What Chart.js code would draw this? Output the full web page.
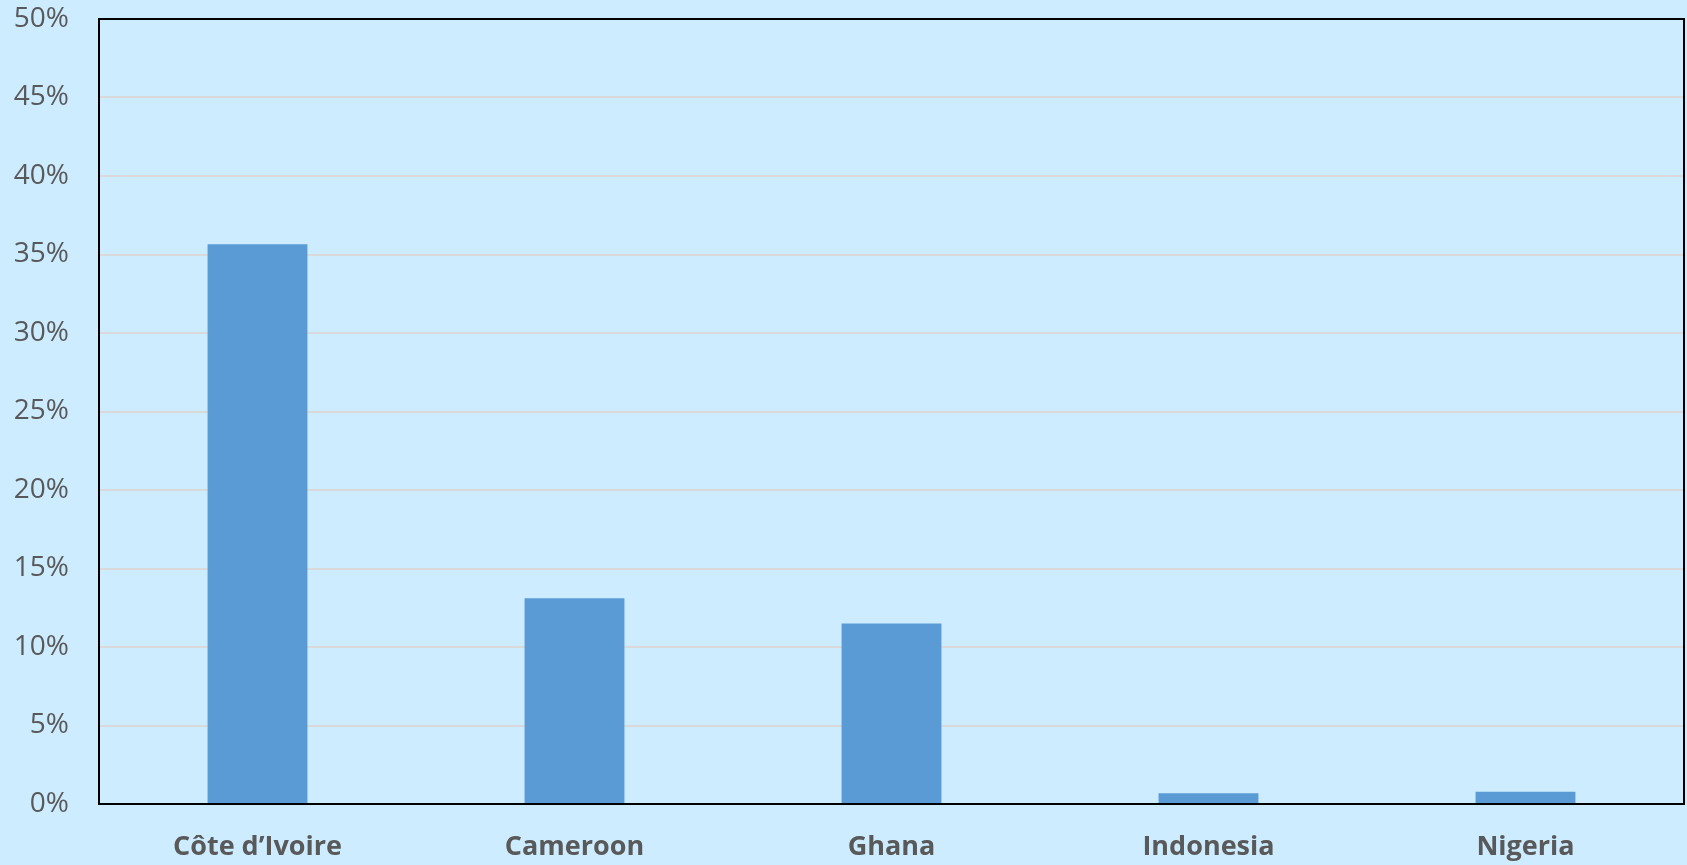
<!DOCTYPE html>
<html>
<head>
<meta charset="utf-8">
<script src="https://cdn.jsdelivr.net/npm/chart.js@4/dist/chart.umd.min.js"></script>
<style>
  html, body { margin: 0; padding: 0; background: #cdecff; }
  #wrap { width: 1687px; height: 865px; }
</style>
</head>
<body>
<div id="wrap"><canvas id="chart" width="1687" height="865"></canvas></div>
<script>
const countries = ['Côte d\u2019Ivoire', 'Cameroon', 'Ghana', 'Indonesia', 'Nigeria']
const shares = [35.65, 13.1, 11.5, 0.68, 0.78]

// frame around the plot area, like the original
const frame = {
  id: 'frame',
  afterDraw(chart) {
    const { ctx, chartArea: a } = chart
    ctx.save()
    ctx.strokeStyle = '#000'
    ctx.lineWidth = 2
    ctx.strokeRect(a.left, a.top, a.right - a.left, a.bottom - a.top)
    ctx.restore()
  }
}

const ctx = document.getElementById('chart').getContext('2d')
let chart = new Chart(ctx, {
  type: 'bar',
  data: {
    labels: countries,
    datasets: [{
      data: shares,
      backgroundColor: '#5b9bd5',
      borderWidth: 0,
      barPercentage: 0.315,
      categoryPercentage: 1
    }]
  },
  options: {
    responsive: false,
    animation: false,
    layout: { padding: { top: 19, right: 3, left: 0, bottom: 0 } },
    plugins: { legend: { display: false }, tooltip: { enabled: false } },
    scales: {
      x: {
        grid: { display: false },
        border: { display: false },
        ticks: {
          color: '#595959',
          font: { family: 'Open Sans', size: 27, weight: 'bold' },
          padding: 19
        },
        afterFit(scale) {
          scale.height = 61
          scale.paddingLeft = 0
          scale.paddingRight = 0
        }
      },
      y: {
        min: 0,
        max: 50,
        grid: { color: '#d9d9d9', lineWidth: 2, drawTicks: false },
        border: { display: false },
        ticks: {
          stepSize: 5,
          color: '#595959',
          font: { family: 'Open Sans', size: 28 },
          padding: 30,
          callback: v => v + '%'
        },
        afterFit(scale) {
          scale.width = 99
          scale.paddingTop = 0
          scale.paddingBottom = 0
        }
      }
    }
  },
  plugins: [frame]
})
</script>
</body>
</html>
